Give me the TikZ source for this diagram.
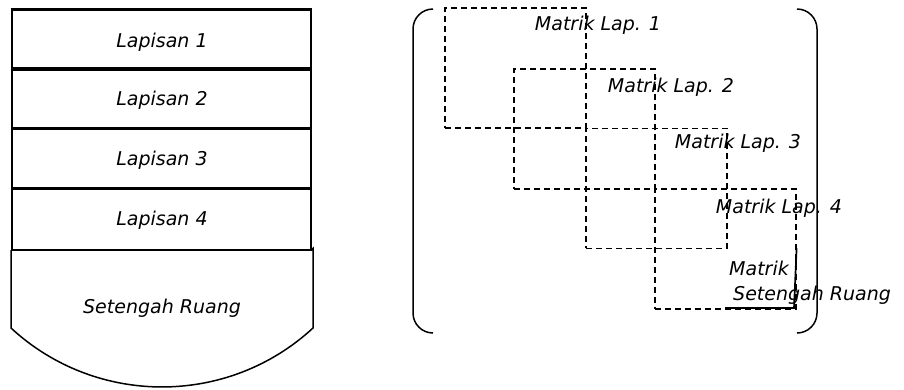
\documentclass[tikz,border=0pt]{standalone}
\usepackage{fontspec}
\setmainfont{DejaVu Sans}
\begin{document}
\begin{tikzpicture}[x=1pt,y=-1pt,
  lbl/.style={font=\fontsize{19}{22}\selectfont\itshape, inner sep=0pt, text=black},
  layer/.style={draw, line width=1.5pt, minimum width=299pt, minimum height=60pt, inner sep=0pt, anchor=north west},
  divider/.style={line width=2.1pt},
  mat/.style={draw, dash pattern=on 6pt off 4pt, line width=1.6pt, minimum width=141pt, minimum height=120pt, inner sep=0pt, anchor=north west},
  brk/.style={line width=1.5pt, rounded corners=20pt},
  solidedge/.style={line width=1.7pt}]
\useasboundingbox (0,0) rectangle (904,389);
% left stack
\node[layer] (l1) at (11,9) {};
\node[layer] (l2) at (11,68.5) {};
\node[layer] (l3) at (11,128.5) {};
\node[layer] (l4) at (11,188.5) {};
\draw[divider] (l1.north west) -- (l1.north east);
\draw[divider] (l2.north west) -- (l2.north east);
\draw[divider] (l3.north west) -- (l3.north east);
\draw[divider] (l4.north west) -- (l4.north east);
\draw[divider] (l4.south west) -- (l4.south east);
\coordinate (hsw) at (11,328);
\coordinate (hse) at (313,328);
\coordinate (hne) at (313,248.5);
\draw[line width=1.5pt] (l4.south west) -- (hsw) .. controls (96,406.6) and (228,406.6) .. (hse) -- (hne) -- (l4.south east);
\node[lbl] (t1) at (162,42) {Lapisan 1};
\node[lbl] (t2) at (162,100) {Lapisan 2};
\node[lbl] (t3) at (162,160) {Lapisan 3};
\node[lbl] (t4) at (162,220) {Lapisan 4};
\node[lbl] (t5) at (162,308) {Setengah Ruang};
% matrix brackets
\coordinate (lbt) at (433,9);
\coordinate (lbc1) at (413,9);
\coordinate (lbc2) at (413,333);
\coordinate (lbb) at (433,333);
\draw[brk] (lbt) -- (lbc1) -- (lbc2) -- (lbb);
\coordinate (rbt) at (797,9);
\coordinate (rbc1) at (817,9);
\coordinate (rbc2) at (817,333);
\coordinate (rbb) at (797,333);
\draw[brk] (rbt) -- (rbc1) -- (rbc2) -- (rbb);
% dashed blocks
\node[mat] (m1) at (444,7) {};
\node[mat] (m2) at (513,68) {};
\node[mat] (m3) at (585,127.5) {};
\node[mat] (m4) at (654,188) {};
\coordinate (m5nw) at (725,248);
\coordinate (m5se) at (794,308);
\draw[solidedge] (m4.east |- m5nw) -- (m5se) -- (m5nw |- m5se);
\node[lbl] (ml1) at (598,25) {Matrik Lap. 1};
\node[lbl] (ml2) at (671,87) {Matrik Lap. 2};
\node[lbl] (ml3) at (738,143) {Matrik Lap. 3};
\node[lbl] (ml4) at (779,208) {Matrik Lap. 4};
\node[lbl, anchor=west] (ml5a) at (729,268) {Matrik};
\node[lbl, anchor=west] (ml5b) at (733,295) {Setengah Ruang};
\end{tikzpicture}
\end{document}
